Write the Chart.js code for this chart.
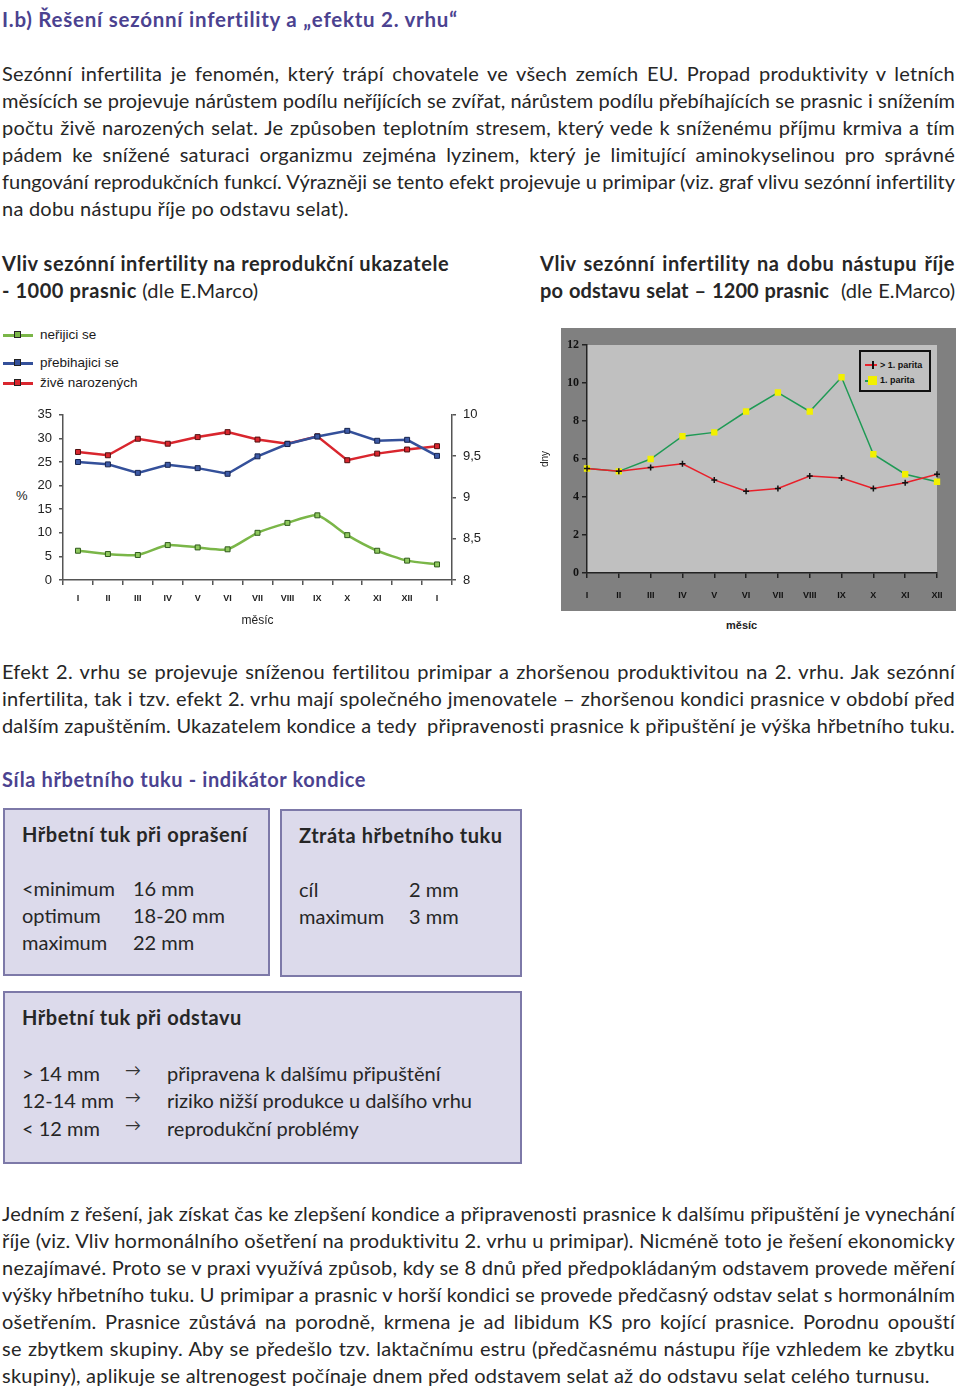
<!DOCTYPE html>
<html lang="cs">
<head>
<meta charset="utf-8">
<script src="https://cdn.jsdelivr.net/npm/chart.js@4.4.0/dist/chart.umd.min.js"></script>
<style>
  body { margin:0; width:960px; height:1394px; position:relative; background:#fff; font-family: Lato, "Noto Sans", sans-serif; color:#262626; overflow:hidden; }
  .a { position:absolute; white-space:nowrap; }
  .t { font-size:20px; line-height:27px; }
  .j { left:2px; width:953px; text-align:justify; text-align-last:justify; letter-spacing:0.23px; }
  .w { letter-spacing:0.23px; }
  .h { color:#4b4290; font-weight:bold; font-size:20px; line-height:27px; letter-spacing:0.6px; }
  .b, .t b { font-weight:bold; letter-spacing:0.55px; }
  .box { position:absolute; background:#dcdaeb; border:2px solid #7d79a8; box-sizing:border-box; }
  .arr { font-size:16px; line-height:20px; color:#333; }
  .leg { position:absolute; font:13.5px "Liberation Sans", Arial, sans-serif; color:#1a1a1a; line-height:16px; }
  .leg i { display:inline-block; position:relative; width:30px; height:2.5px; vertical-align:middle; margin-right:7px; }
  .leg i:after { content:""; position:absolute; left:11px; top:-3px; width:7px; height:7px; box-sizing:border-box; border:1px solid #222; background:inherit; }
  canvas { position:absolute; }
</style>
</head>
<body>

<div class="a h" style="left:2px; top:6px; font-size:20.5px; letter-spacing:0.75px;">I.b) Řešení sezónní infertility a „efektu 2. vrhu“</div>

<div class="a t j" style="top:60px;">Sezónní infertilita je fenomén, který trápí chovatele ve všech zemích EU. Propad produktivity v letních</div>
<div class="a t j" style="top:87px;">měsících se projevuje nárůstem podílu neříjících se zvířat, nárůstem podílu přebíhajících se prasnic i snížením</div>
<div class="a t j" style="top:114px;">počtu živě narozených selat. Je způsoben teplotním stresem, který vede k sníženému příjmu krmiva a tím</div>
<div class="a t j" style="top:141px;">pádem ke snížené saturaci organizmu zejména lyzinem, který je limitující aminokyselinou pro správné</div>
<div class="a t j" style="top:168px;">fungování reprodukčních funkcí. Výrazněji se tento efekt projevuje u primipar (viz. graf vlivu sezónní infertility</div>
<div class="a t w" style="left:2px; top:195px;">na dobu nástupu říje po odstavu selat).</div>

<div class="a t b" style="left:2px; top:250px;">Vliv sezónní infertility na reprodukční ukazatele</div>
<div class="a t w" style="left:2px; top:277px;"><b>- 1000 prasnic</b> (dle E.Marco)</div>
<div class="a t b" style="left:540px; top:250px; width:415px; text-align:justify; text-align-last:justify;">Vliv sezónní infertility na dobu nástupu říje</div>
<div class="a t" style="left:540px; top:277px; width:415px; text-align:justify; text-align-last:justify;"><b style="letter-spacing:0.1px;">po odstavu selat – 1200 prasnic</b>&nbsp; (dle E.Marco)</div>

<!-- legenda levého grafu -->
<div class="leg" style="left:3px; top:327px;"><i style="background:#7ab648"></i>neřijici se</div>
<div class="leg" style="left:3px; top:355px;"><i style="background:#34509a"></i>přebihajici se</div>
<div class="leg" style="left:3px; top:375px;"><i style="background:#d9262e"></i>živě narozených</div>
<div class="a" style="left:16px; top:488px; font:13px 'Liberation Sans', Arial, sans-serif; color:#222;">%</div>

<canvas id="left" width="500" height="232" style="left:0; top:400px;"></canvas>
<canvas id="right" width="425" height="295" style="left:535px; top:320px;"></canvas>

<!-- legenda pravého grafu -->
<div class="a" style="left:859px; top:350px; width:72px; height:42px; box-sizing:border-box; border:2px solid #111; background:#c0c0c0; font:bold 9px 'Liberation Sans', Arial, sans-serif; color:#111;">
  <div class="a" style="left:4px; top:12px; width:12px; height:1.5px; background:#e8202a;"></div>
  <div class="a" style="left:11px; top:9px; width:1.5px; height:8px; background:#111;"></div>
  <div class="a" style="left:19px; top:8px;">&gt; 1. parita</div>
  <div class="a" style="left:4px; top:28px; width:12px; height:1.5px; background:#1f9a55;"></div>
  <div class="a" style="left:7px; top:24px; width:9px; height:9px; background:#f2f000;"></div>
  <div class="a" style="left:19px; top:23px;">1. parita</div>
</div>
<div class="a" style="left:726px; top:619px; font:bold 11px 'Liberation Sans', Arial, sans-serif; color:#222;">měsíc</div>

<div class="a t j" style="top:658px;">Efekt 2. vrhu se projevuje sníženou fertilitou primipar a zhoršenou produktivitou na 2. vrhu. Jak sezónní</div>
<div class="a t j" style="top:685px;">infertilita, tak i tzv. efekt 2. vrhu mají společného jmenovatele – zhoršenou kondici prasnice v období před</div>
<div class="a t j" style="top:712px;">dalším zapuštěním. Ukazatelem kondice a tedy&nbsp; připravenosti prasnice k připuštění je výška hřbetního tuku.</div>

<div class="a h" style="left:2px; top:766px;">Síla hřbetního tuku - indikátor kondice</div>

<div class="box" style="left:3px; top:808px; width:267px; height:168px;"></div>
<div class="box" style="left:280px; top:809px; width:242px; height:168px;"></div>
<div class="box" style="left:3px; top:991px; width:519px; height:173px;"></div>

<div class="a t b" style="left:22px; top:821px;">Hřbetní tuk při oprašení</div>
<div class="a t" style="left:22px; top:875px;">&lt;minimum</div><div class="a t" style="left:133px; top:875px;">16 mm</div>
<div class="a t" style="left:22px; top:902px;">optimum</div><div class="a t" style="left:133px; top:902px;">18-20 mm</div>
<div class="a t" style="left:22px; top:929px;">maximum</div><div class="a t" style="left:133px; top:929px;">22 mm</div>

<div class="a t b" style="left:299px; top:822px;">Ztráta hřbetního tuku</div>
<div class="a t" style="left:299px; top:876px;">cíl</div><div class="a t" style="left:409px; top:876px;">2 mm</div>
<div class="a t" style="left:299px; top:903px;">maximum</div><div class="a t" style="left:409px; top:903px;">3 mm</div>

<div class="a t b" style="left:22px; top:1004px;">Hřbetní tuk při odstavu</div>
<div class="a t" style="left:22px; top:1060px;">&gt; 14 mm</div><div class="a arr" style="left:125px; top:1060px;">→</div><div class="a t" style="left:167px; top:1060px;">připravena k dalšímu připuštění</div>
<div class="a t" style="left:22px; top:1087px;">12-14 mm</div><div class="a arr" style="left:125px; top:1087px;">→</div><div class="a t" style="left:167px; top:1087px;">riziko nižší produkce u dalšího vrhu</div>
<div class="a t" style="left:22px; top:1115px;">&lt; 12 mm</div><div class="a arr" style="left:125px; top:1115px;">→</div><div class="a t" style="left:167px; top:1115px;">reprodukční problémy</div>

<div class="a t j" style="top:1200px;">Jedním z řešení, jak získat čas ke zlepšení kondice a připravenosti prasnice k dalšímu připuštění je vynechání</div>
<div class="a t j" style="top:1227px;">říje (viz. Vliv hormonálního ošetření na produktivitu 2. vrhu u primipar). Nicméně toto je řešení ekonomicky</div>
<div class="a t j" style="top:1254px;">nezajímavé. Proto se v praxi využívá způsob, kdy se 8 dnů před předpokládaným odstavem provede měření</div>
<div class="a t j" style="top:1281px;">výšky hřbetního tuku. U primipar a prasnic v horší kondici se provede předčasný odstav selat s hormonálním</div>
<div class="a t j" style="top:1308px;">ošetřením. Prasnice zůstává na porodně, krmena je ad libidum KS pro kojící prasnice. Porodnu opouští</div>
<div class="a t j" style="top:1335px;">se zbytkem skupiny. Aby se předešlo tzv. laktačnímu estru (předčasnému nástupu říje vzhledem ke zbytku</div>
<div class="a t w" style="left:2px; top:1362px;">skupiny), aplikuje se altrenogest počínaje dnem před odstavem selat až do odstavu selat celého turnusu.</div>

<script>
// levý graf – reprodukční ukazatele
const mesice13 = ['I', 'II', 'III', 'IV', 'V', 'VI', 'VII', 'VIII', 'IX', 'X', 'XI', 'XII', 'I'];
const nerijiciSe = [6.2, 5.5, 5.3, 7.4, 6.9, 6.5, 10.0, 12.1, 13.7, 9.5, 6.2, 4.1, 3.3];
const prebihajiciSe = [25.0, 24.5, 22.7, 24.4, 23.7, 22.5, 26.2, 28.8, 30.4, 31.6, 29.5, 29.7, 26.3];
const ziveNarozenych = [9.55, 9.51, 9.71, 9.65, 9.73, 9.79, 9.7, 9.65, 9.74, 9.45, 9.53, 9.58, 9.62];

// pravý graf – doba nástupu říje
const mesice12 = ['I', 'II', 'III', 'IV', 'V', 'VI', 'VII', 'VIII', 'IX', 'X', 'XI', 'XII'];
const parita1 = [5.5, 5.35, 6.0, 7.2, 7.4, 8.5, 9.5, 8.5, 10.3, 6.25, 5.2, 4.8];
const paritaVyssi = [5.5, 5.35, 5.55, 5.75, 4.9, 4.3, 4.45, 5.1, 5.0, 4.45, 4.75, 5.2];

// stlačit řádky, které se nevejdou
document.querySelectorAll('.j').forEach(el => {
  const over = el.scrollWidth - el.clientWidth;
  if (over > 0) el.style.letterSpacing = (0.23 - over / el.textContent.length - 0.02) + 'px';
});

const arial = 'Liberation Sans, Arial, sans-serif';
const axisGray = '#555';

new Chart(document.getElementById('left'), {
  type: 'line',
  data: {
    labels: mesice13,
    datasets: [
      { label: 'neřijici se', data: nerijiciSe, yAxisID: 'y', borderColor: '#7ab648', backgroundColor: '#8fc95e',
        pointBorderColor: '#2f5a1c', tension: 0.2 },
      { label: 'přebihajici se', data: prebihajiciSe, yAxisID: 'y', borderColor: '#34509a', backgroundColor: '#3d5aa6',
        pointBorderColor: '#17244d', tension: 0 },
      { label: 'živě narozených', data: ziveNarozenych, yAxisID: 'y2', borderColor: '#d9262e', backgroundColor: '#d9262e',
        pointBorderColor: '#501010', tension: 0 }
    ]
  },
  options: {
    responsive: false,
    animation: false,
    layout: { padding: { top: 13 } },
    elements: {
      line: { borderWidth: 2.5 },
      point: { pointStyle: 'rect', radius: 3.5, borderWidth: 1 }
    },
    plugins: { legend: { display: false }, tooltip: { enabled: false } },
    scales: {
      x: {
        offset: true,
        grid: { offset: true, drawOnChartArea: false, tickLength: 5, color: axisGray, lineWidth: 1.5 },
        border: { color: axisGray, width: 1.5 },
        ticks: { font: { size: 9, weight: 'bold', family: arial }, color: '#222', padding: 8, maxRotation: 0 },
        title: { display: true, text: 'měsíc', font: { size: 12, family: arial }, color: '#222', padding: { top: 2 } },
        afterFit: s => { s.height = 52; }
      },
      y: {
        position: 'left', min: 0, max: 35,
        ticks: { stepSize: 5, font: { size: 13, family: arial }, color: '#222', padding: 7 },
        grid: { drawOnChartArea: false, tickLength: 4, color: axisGray, lineWidth: 1.5 },
        border: { color: axisGray, width: 1.5 },
        afterFit: s => { s.width = 63; }
      },
      y2: {
        position: 'right', min: 8, max: 10,
        ticks: { stepSize: 0.5, font: { size: 13, family: arial }, color: '#222', padding: 7,
          callback: v => String(v).replace('.', ',') },
        grid: { drawOnChartArea: false, tickLength: 4, color: axisGray, lineWidth: 1.5 },
        border: { color: axisGray, width: 1.5 },
        afterFit: s => { s.width = 48; }
      }
    }
  }
});

const framePlugin = {
  id: 'frame',
  beforeDraw(chart) {
    const { ctx, chartArea: a } = chart;
    ctx.save();
    ctx.fillStyle = '#808080';
    ctx.fillRect(a.left - 26, a.top - 17, a.width + 45, a.height + 55);
    ctx.fillStyle = '#c0c0c0';
    ctx.fillRect(a.left, a.top, a.width, a.height);
    ctx.restore();
  }
};

new Chart(document.getElementById('right'), {
  type: 'line',
  data: {
    labels: mesice12,
    datasets: [
      { label: '> 1. parita', data: paritaVyssi, borderColor: '#e8202a', borderWidth: 1.5,
        pointStyle: 'cross', radius: 3, pointBorderColor: '#111', pointBorderWidth: 1.5 },
      { label: '1. parita', data: parita1, borderColor: '#1f9a55', borderWidth: 1.5,
        pointStyle: 'rect', radius: 4.5, pointBackgroundColor: '#f2f000', pointBorderColor: '#f2f000', pointBorderWidth: 0 }
    ]
  },
  options: {
    responsive: false,
    animation: false,
    layout: { padding: { top: 25, right: 23 } },
    plugins: { legend: { display: false }, tooltip: { enabled: false } },
    scales: {
      x: {
        grid: { drawOnChartArea: false, tickLength: 5, color: '#222', lineWidth: 1.5 },
        border: { color: '#222', width: 1.5 },
        ticks: { font: { size: 9, weight: 'bold', family: arial }, color: '#111', padding: 12, maxRotation: 0 },
        afterFit: s => { s.height = 42; }
      },
      y: {
        min: 0, max: 12,
        ticks: { stepSize: 2, font: { size: 12, weight: 'bold', family: 'Liberation Serif, serif' }, color: '#111', padding: 3 },
        grid: { drawOnChartArea: false, tickLength: 5, color: '#222', lineWidth: 1.5 },
        border: { color: '#222', width: 1.5 },
        title: { display: true, text: 'dny', font: { size: 10, family: arial }, color: '#222', padding: { top: 4, bottom: 0 } },
        afterFit: s => { s.width = 52; }
      }
    }
  },
  plugins: [framePlugin]
});
</script>
</body>
</html>
